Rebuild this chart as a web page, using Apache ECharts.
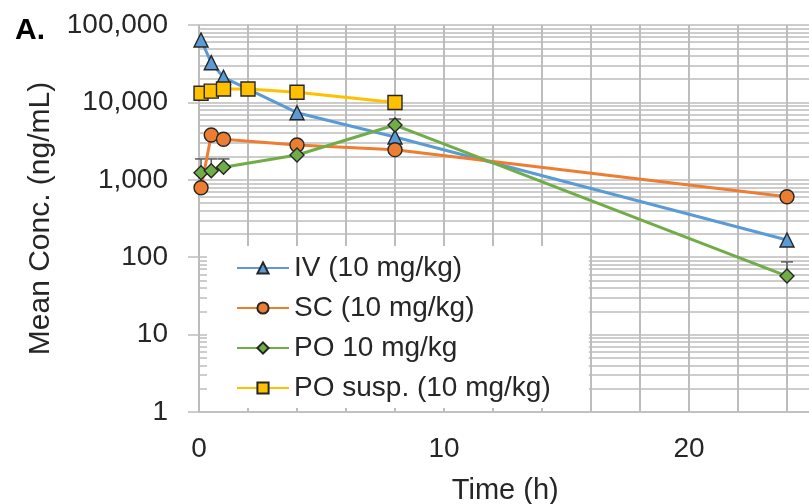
<!DOCTYPE html>
<html>
<head>
<meta charset="utf-8">
<script src="https://cdn.jsdelivr.net/npm/echarts@6/dist/echarts.min.js"></script>
<style>
html,body{margin:0;padding:0;background:#fff}
#main{width:809px;height:504px}
</style>
</head>
<body>
<div id="main"></div>
<script>
// data (time in h, mean conc. in ng/mL)
var seriesNames = ['IV (10 mg/kg)', 'SC (10 mg/kg)', 'PO 10 mg/kg', 'PO susp. (10 mg/kg)'];
var timeIV = [0.083, 0.5, 1, 4, 8, 24];
var concIV = [64000, 32600, 21100, 7360, 3570, 167];
var timeSC = [0.083, 0.5, 1, 4, 8, 24];
var concSC = [790, 3790, 3340, 2820, 2450, 605];
var timePO = [0.083, 0.5, 1, 4, 8, 24];
var concPO = [1236, 1312, 1450, 2090, 5100, 57];
var timeSusp = [0.083, 0.5, 1, 2, 4, 8];
var concSusp = [13100, 14000, 14900, 14900, 13500, 9950];
// upper end of the PO error bars
var errTimePO = [0.083, 0.5, 1, 8, 24];
var errUpperPO = [1860, 1860, 1860, 6100, 87];
var xTickLabels = [0, 10, 20];

var font = 'Liberation Sans, Arial, sans-serif';
var gridGray = '#bdbdbd';

function pairs(t, v) {
  return t.map(function (x, i) { return [x, v[i]]; });
}

// minor log gridlines 2..9 in each decade
var minorLines = [];
for (var d = 1; d < 100000; d *= 10) {
  for (var m = 2; m <= 9; m++) minorLines.push({ yAxis: m * d });
}

var errData = errTimePO.map(function (t, i) {
  return [t, concPO[timePO.indexOf(t)], errUpperPO[i]];
});

function lineSeries(name, t, v, color, symbol, size) {
  return {
    name: name,
    type: 'line',
    data: pairs(t, v),
    symbol: symbol,
    symbolSize: size,
    z: 3,
    lineStyle: { color: color, width: 3 },
    itemStyle: { color: color, borderColor: '#262626', borderWidth: 1.4 }
  };
}

var myChart = echarts.init(document.getElementById('main'));

option = {
  animation: false,
  title: {
    text: 'A.',
    left: 10,
    top: 11,
    textStyle: { fontSize: 30, fontWeight: 'bold', color: '#000', fontFamily: font }
  },
  grid: { left: 199, top: 25, width: 612.5, height: 387, outerBoundsMode: 'none', containLabel: false },
  legend: {
    data: seriesNames,
    orient: 'vertical',
    left: 207,
    top: 246,
    padding: [7, 38, 5, 29],
    backgroundColor: '#fff',
    itemWidth: 52,
    itemHeight: 14,
    itemGap: 10,
    z: 5,
    textStyle: { fontSize: 28, lineHeight: 30, color: '#262626', fontFamily: font }
  },
  xAxis: {
    type: 'value',
    min: 0,
    max: 25,
    interval: 2,
    name: 'Time (h)',
    nameLocation: 'middle',
    nameGap: 64,
    nameTextStyle: { fontSize: 29, color: '#262626', fontFamily: font },
    axisLine: { lineStyle: { color: gridGray, width: 1.5 } },
    axisTick: { show: false },
    axisLabel: {
      margin: 23,
      fontSize: 28,
      color: '#262626',
      fontFamily: font,
      formatter: function (v) { return xTickLabels.indexOf(v) >= 0 ? String(v) : ''; }
    },
    splitLine: { show: true, lineStyle: { color: gridGray, width: 2 } }
  },
  yAxis: {
    type: 'log',
    logBase: 10,
    min: 1,
    max: 100000,
    splitNumber: 5,
    name: 'Mean Conc. (ng/mL)',
    nameLocation: 'middle',
    nameGap: 130,
    nameTextStyle: { fontSize: 30, color: '#262626', fontFamily: font },
    axisLine: { show: true, lineStyle: { color: gridGray, width: 1.5 } },
    axisTick: { show: true, length: 11, lineStyle: { color: gridGray, width: 1.5 } },
    axisLabel: {
      margin: 31,
      fontSize: 28,
      color: '#262626',
      fontFamily: font,
      formatter: function (v) { return Math.round(v).toLocaleString('en-US'); }
    },
    splitLine: { show: true, lineStyle: { color: gridGray, width: 1.5 } }
  },
  series: [
    {
      name: 'grid',
      type: 'line',
      data: [],
      silent: true,
      z: 0,
      markLine: {
        silent: true,
        z: 0,
        symbol: ['none', 'none'],
        label: { show: false },
        lineStyle: { color: gridGray, width: 1.5, type: 'solid' },
        data: minorLines
      }
    },
    {
      name: 'err',
      type: 'custom',
      z: 2,
      clip: false,
      data: errData,
      renderItem: function (params, api) {
        var p0 = api.coord([api.value(0), api.value(1)]);
        var p1 = api.coord([api.value(0), api.value(2)]);
        var w = 6;
        var st = { stroke: '#595959', lineWidth: 1.5 };
        return {
          type: 'group',
          children: [
            { type: 'line', shape: { x1: p0[0], y1: p0[1], x2: p1[0], y2: p1[1] }, style: st },
            { type: 'line', shape: { x1: p1[0] - w, y1: p1[1], x2: p1[0] + w, y2: p1[1] }, style: st }
          ]
        };
      }
    },
    lineSeries(seriesNames[0], timeIV, concIV, '#5B9BD5', 'triangle', 14),
    lineSeries(seriesNames[1], timeSC, concSC, '#ED7D31', 'circle', 14),
    lineSeries(seriesNames[2], timePO, concPO, '#70AD47', 'diamond', 14),
    lineSeries(seriesNames[3], timeSusp, concSusp, '#FFC000', 'rect', 14)
  ]
};

myChart.setOption(option);
</script>
</body>
</html>
